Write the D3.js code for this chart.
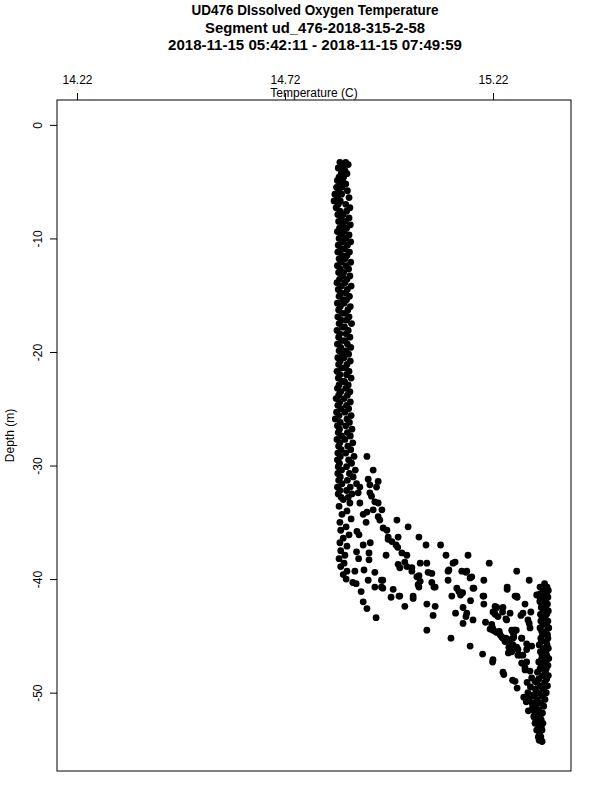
<!DOCTYPE html>
<html>
<head>
<meta charset="utf-8">
<script src="https://cdn.jsdelivr.net/npm/d3@7"></script>
<style>
  body { margin: 0; background: #fff; }
  text { font-family: "Liberation Sans", Arial, Helvetica, sans-serif; fill: #000; }
</style>
</head>
<body>
<div id="chart"></div>
<script>
// Titles and axis labels
var titleLines = [
  "UD476 DIssolved Oxygen Temperature",
  "Segment ud_476-2018-315-2-58",
  "2018-11-15 05:42:11 - 2018-11-15 07:49:59"
];
var xLabel = "Temperature (C)";
var yLabel = "Depth (m)";
var xTicks = [14.22, 14.72, 15.22];
var yTicks = [0, -10, -20, -30, -40, -50];

// Upper mixed layer: [temperature, depth]
var upperColumn = [
  [14.852,-3.3],[14.866,-3.3],[14.860,-3.5],[14.872,-3.5],[14.848,-3.8],[14.858,-3.8],[14.864,-4.0],
  [14.855,-4.3],[14.869,-4.3],[14.850,-4.6],[14.861,-4.6],[14.858,-4.9],[14.846,-4.9],
  [14.866,-5.2],[14.852,-5.2],[14.844,-5.5],[14.857,-5.5],[14.849,-5.8],[14.870,-5.8],
  [14.840,-6.1],[14.856,-6.1],[14.846,-6.4],[14.874,-6.4],[14.838,-6.7],[14.853,-6.7],
  [14.848,-7.0],[14.866,-7.0],[14.843,-7.3],[14.876,-7.3],[14.852,-7.6],[14.868,-7.6],
  [14.847,-7.9],[14.860,-7.9],[14.855,-8.2],[14.874,-8.2],[14.849,-8.5],[14.865,-8.5],
  [14.858,-8.8],[14.877,-8.8],[14.851,-9.1],[14.868,-9.1],[14.846,-9.4],[14.862,-9.4],
  [14.856,-9.7],[14.874,-9.7],[14.850,-10.0],[14.866,-10.0],[14.859,-10.3],[14.878,-10.3],
  [14.848,-10.6],[14.870,-10.6],[14.854,-10.9],[14.863,-10.9],[14.847,-11.2],[14.875,-11.2],
  [14.857,-11.5],[14.869,-11.5],[14.850,-11.8],[14.864,-11.8],[14.855,-12.1],[14.878,-12.1],
  [14.846,-12.4],[14.867,-12.4],[14.853,-12.7],[14.873,-12.7],[14.849,-13.0],[14.861,-13.0],
  [14.858,-13.3],[14.876,-13.3],[14.851,-13.6],[14.869,-13.6],[14.845,-13.9],[14.864,-13.9],
  [14.856,-14.2],[14.879,-14.2],[14.848,-14.5],[14.870,-14.5],[14.854,-14.8],[14.866,-14.8],
  [14.850,-15.1],[14.875,-15.1],[14.859,-15.4],[14.868,-15.4],[14.846,-15.7],[14.862,-15.7],
  [14.853,-16.0],[14.877,-16.0],[14.849,-16.3],[14.871,-16.3],[14.857,-16.6],[14.865,-16.6],
  [14.847,-16.9],[14.874,-16.9],[14.855,-17.2],[14.868,-17.2],[14.850,-17.5],[14.880,-17.5],
  [14.858,-17.8],[14.863,-17.8],[14.845,-18.1],[14.872,-18.1],[14.852,-18.4],[14.867,-18.4],
  [14.849,-18.7],[14.876,-18.7],[14.856,-19.0],[14.864,-19.0],[14.846,-19.3],[14.870,-19.3],
  [14.854,-19.6],[14.878,-19.6],[14.850,-19.9],[14.866,-19.9],[14.858,-20.2],[14.873,-20.2],
  [14.847,-20.5],[14.862,-20.5],[14.853,-20.8],[14.877,-20.8],[14.849,-21.1],[14.869,-21.1],
  [14.856,-21.4],[14.865,-21.4],[14.845,-21.7],[14.874,-21.7],[14.852,-22.0],[14.868,-22.0],
  [14.848,-22.3],[14.879,-22.3],[14.857,-22.6],[14.863,-22.6],[14.850,-22.9],[14.872,-22.9],
  [14.846,-23.2],[14.866,-23.2],[14.854,-23.5],[14.876,-23.5],[14.849,-23.8],[14.870,-23.8],
  [14.843,-24.1],[14.862,-24.1],[14.852,-24.4],[14.877,-24.4],[14.847,-24.7],[14.868,-24.7],
  [14.855,-25.0],[14.873,-25.0],[14.844,-25.3],[14.864,-25.3],[14.850,-25.6],[14.879,-25.6],
  [14.841,-25.9],[14.869,-25.9],[14.853,-26.2],[14.875,-26.2],[14.846,-26.5],[14.866,-26.5],
  [14.851,-26.8],[14.881,-26.8],[14.848,-27.1],[14.870,-27.1],[14.856,-27.4],[14.877,-27.4],
  [14.845,-27.7],[14.864,-27.7],[14.852,-28.0],[14.883,-28.0],[14.849,-28.3],[14.871,-28.3],
  [14.855,-28.6],[14.878,-28.6],[14.847,-28.9],[14.866,-28.9],[14.853,-29.2],[14.886,-29.2],
  [14.846,-29.5],[14.873,-29.5],[14.851,-29.8],[14.880,-29.8],[14.848,-30.1],[14.868,-30.1],
  [14.856,-30.4],[14.889,-30.4],[14.847,-30.7],[14.875,-30.7],[14.853,-31.0],[14.884,-31.0],
  [14.849,-31.3],[14.870,-31.3],[14.857,-31.6],[14.892,-31.6],[14.846,-31.9],[14.877,-31.9],
  [14.852,-32.2],[14.868,-32.2],[14.848,-32.5],[14.881,-32.5],[14.855,-32.8],[14.872,-32.8]
];

// Thermocline: [temperature, depth]
var thermocline = [
  [14.860,-33.0],[14.876,-33.3],[14.850,-33.6],[14.869,-34.0],[14.857,-34.3],[14.879,-34.7],
  [14.852,-35.0],[14.867,-35.4],[14.854,-35.7],[14.874,-36.1],[14.860,-36.4],[14.852,-36.8],
  [14.869,-37.1],[14.854,-37.5],[14.864,-37.9],[14.850,-38.2],[14.862,-38.6],[14.854,-38.9],
  [14.869,-39.3],[14.860,-39.6],[14.867,-40.0],[14.883,-40.3],[14.891,-40.4],
  [14.893,-35.8],[14.898,-36.1],[14.892,-37.6],[14.897,-38.2],[14.908,-37.0],[14.922,-37.7],
  [14.922,-38.3],[14.925,-36.8],[14.915,-35.0],[14.888,-39.3],[14.910,-39.2],[14.920,-40.1],
  [14.903,-41.1],[14.908,-42.0],[14.917,-42.6],[14.939,-43.4],[14.936,-40.7],[14.952,-40.1],
  [14.952,-40.7],[14.936,-39.4],[14.963,-37.9],
  [14.917,-29.2],[14.932,-30.4],[14.920,-31.2],[14.924,-31.7],[14.944,-31.4],[14.940,-31.9],
  [14.900,-31.9],[14.896,-32.4],[14.924,-32.4],[14.928,-32.7],[14.900,-33.3],[14.936,-33.2],
  [14.944,-33.3],[14.932,-33.9],[14.953,-33.9],[14.917,-34.1],[14.908,-34.3],[14.944,-34.5],
  [14.948,-34.8],[14.956,-35.5],[14.965,-35.7],[14.968,-36.3],[14.968,-36.5],[14.977,-36.7],
  [14.987,-37.0],[14.991,-37.2],[15.001,-37.7],[15.013,-37.9],[15.008,-38.5],[15.013,-38.9],
  [14.992,-38.7],[14.996,-39.0],[15.025,-39.0],[15.025,-39.3],[15.037,-39.8],[15.045,-40.2],
  [15.040,-40.5],[15.064,-39.4],[15.073,-40.3],[15.081,-40.7],[15.045,-38.6],[15.061,-38.6],
  [15.028,-41.5],[15.008,-42.4],[14.994,-41.5],[14.975,-41.6],[14.980,-40.9],[15.061,-42.2],
  [15.081,-42.4],[15.076,-43.2],[15.061,-44.5],[15.119,-45.2],[14.989,-34.8],[15.016,-35.4],
  [15.042,-36.3],[15.059,-37.0],[15.094,-37.0],[15.107,-37.9],[15.160,-37.9],[15.129,-38.5],
  [15.124,-38.6],[15.211,-38.6],[15.277,-39.3],[15.307,-40.1],[15.333,-40.7],[15.328,-41.4],
  [15.254,-40.7],[15.254,-40.9],[15.277,-41.5],[15.297,-42.2],[15.311,-42.9],[15.287,-43.2],
  [15.307,-43.9],[15.270,-44.5],[15.270,-44.7],[15.243,-42.9],[15.253,-43.6],[15.220,-42.9],
  [15.225,-43.1],[15.198,-42.2],[15.196,-41.5],[15.174,-40.8],[15.198,-40.1],[15.157,-39.3],
  [15.169,-39.8],[15.145,-39.3],[15.114,-39.2],[15.112,-40.1],[15.133,-40.8],[15.147,-41.2],
  [15.121,-41.5],[15.148,-42.5],[15.157,-43.0],[15.130,-43.0],[15.166,-41.9],[15.172,-43.6],
  [15.148,-43.9],[15.202,-43.8],[15.219,-44.3],[15.229,-44.7],[15.241,-45.1],[15.249,-45.5],
  [15.261,-45.5],[15.268,-45.8],[15.289,-45.2],[15.258,-46.0],[15.265,-46.4],[15.301,-46.2],
  [15.292,-46.7],[15.165,-45.9],[15.195,-46.6],[15.219,-47.3],[15.246,-48.4],[15.267,-48.9],
  [15.278,-49.6],[15.294,-50.4],[15.244,-48.2],
  [14.992,-36.3],[15.112,-39.3],[15.155,-39.4],[15.165,-39.9],[15.073,-39.5],[15.042,-39.7],
  [15.078,-40.7],[15.042,-40.7],[15.172,-40.8],[15.138,-41.1],[15.142,-41.4],[14.955,-40.1],
  [14.955,-40.8],[15.273,-41.5],[15.278,-41.6],[15.325,-41.4],[15.198,-41.5],[15.028,-41.7],
  [14.996,-41.5],[15.225,-42.4],[15.244,-42.5],[15.155,-43.3],[15.232,-43.3],[15.213,-44.4],
  [15.225,-44.6],[15.235,-44.6],[15.265,-44.5],[15.276,-44.5],[15.251,-45.2],[15.270,-45.1],
  [15.289,-45.2],[15.265,-45.8],[15.277,-46.0],[15.257,-46.5],[15.285,-46.7],
  [15.229,-42.5],[15.223,-42.9],[15.261,-43.0],[15.251,-43.5],[15.292,-43.0],[15.304,-43.6],
  [15.309,-44.3],[15.217,-44.0],[15.220,-44.5],[15.237,-44.9],[15.244,-45.2],[15.256,-45.3],
  [15.273,-44.5],[15.268,-44.7],[15.268,-45.2],[15.280,-46.2],[15.261,-46.1],[15.301,-45.7],
  [15.313,-45.9],[15.301,-47.3],[15.289,-47.4],[15.297,-47.8],[15.309,-48.1],[15.220,-47.1],
  [15.273,-49.0],[15.313,-48.7],[15.321,-49.0],[15.333,-42.0]
];

// Bottom layer near the seabed: [temperature, depth]
var bottomWall = [
  [15.344,-40.4],[15.350,-40.7],[15.337,-40.7],[15.341,-41.0],[15.353,-41.0],[15.348,-41.3],
  [15.334,-41.3],[15.338,-41.6],[15.352,-41.6],[15.346,-41.9],[15.333,-41.9],[15.351,-42.2],
  [15.339,-42.2],[15.336,-42.5],[15.347,-42.5],[15.353,-42.8],[15.341,-42.8],[15.334,-43.1],
  [15.349,-43.1],[15.345,-43.4],[15.338,-43.4],[15.352,-43.7],[15.335,-43.7],[15.340,-44.0],
  [15.349,-44.0],[15.333,-44.3],[15.354,-44.3],[15.347,-44.6],[15.337,-44.6],[15.339,-44.9],
  [15.351,-44.9],[15.352,-45.2],[15.335,-45.2],[15.336,-45.5],[15.348,-45.5],[15.350,-45.8],
  [15.331,-45.8],[15.341,-46.1],[15.353,-46.1],[15.334,-46.4],[15.347,-46.4],[15.349,-46.7],
  [15.338,-46.7],[15.337,-47.0],[15.354,-47.0],[15.345,-47.3],[15.330,-47.3],[15.352,-47.6],
  [15.336,-47.6],[15.333,-47.9],[15.348,-47.9],[15.346,-48.2],[15.327,-48.2],[15.339,-48.5],
  [15.353,-48.5],[15.330,-48.8],[15.349,-48.8],[15.344,-49.1],[15.325,-49.1],[15.351,-49.4],
  [15.334,-49.4],[15.322,-49.7],[15.341,-49.7],[15.348,-50.0],[15.330,-50.0],[15.318,-50.3],
  [15.338,-50.3],[15.345,-50.6],[15.326,-50.6],[15.314,-50.9],[15.335,-50.9],[15.342,-51.2],
  [15.322,-51.2],[15.330,-51.5],[15.316,-51.5],[15.339,-51.8],[15.324,-51.8],[15.318,-52.1],
  [15.333,-52.1],[15.336,-52.4],[15.326,-52.4],[15.321,-52.7],[15.340,-52.7],[15.330,-53.0],
  [15.336,-53.0],[15.325,-53.3],[15.338,-53.3],[15.332,-53.6],[15.329,-53.9],[15.335,-53.9],
  [15.331,-54.2],
  [15.280,-46.7],[15.290,-47.4],[15.297,-48.0],[15.302,-49.1],[15.304,-50.0],[15.314,-50.9],
  [15.321,-51.8],[15.326,-52.6],[15.333,-53.9],[15.338,-54.3],[15.310,-49.5],[15.318,-50.2],
  [15.306,-50.5],[15.315,-51.3],[15.325,-51.0],[15.320,-52.2],[15.300,-50.8],[15.305,-51.6]
];

var width = 600, height = 800;
var plotLeft = 57, plotRight = 571, plotTop = 100, plotBottom = 771;
// widths of the three title lines as drawn in the original bitmap font
var titleWidths = [247, 220, 294];

var svg = d3.select("#chart").append("svg")
  .attr("width", width)
  .attr("height", height);

var x = d3.scaleLinear().domain([14.172, 15.4075]).range([plotLeft, plotRight]);
var y = d3.scaleLinear().domain([2.19, -56.9]).range([plotTop, plotBottom]);

// Titles
svg.selectAll("text.title")
  .data(titleLines)
  .enter().append("text")
    .attr("class", "title")
    .attr("x", 315)
    .attr("y", function(d, i) { return 15 + i * 17.5; })
    .attr("text-anchor", "middle")
    .attr("textLength", function(d, i) { return titleWidths[i]; })
    .attr("lengthAdjust", "spacingAndGlyphs")
    .style("font-size", "14px")
    .style("font-weight", "bold")
    .text(function(d) { return d; });

// Top axis
var topAxis = svg.append("g")
  .attr("transform", "translate(0," + plotTop + ")")
  .call(d3.axisTop(x).tickValues(xTicks).tickSize(7).tickPadding(9)
    .tickFormat(d3.format(".2f")));
topAxis.select(".domain").remove();
topAxis.selectAll("line").attr("stroke", "#000");
topAxis.selectAll("text")
  .style("font-size", "12px")
  .style("font-family", "'Liberation Sans', Arial, sans-serif")
  .attr("fill", "#000");

svg.append("text")
  .attr("x", 314)
  .attr("y", 96.5)
  .attr("text-anchor", "middle")
  .style("font-size", "12px")
  .text(xLabel);

// Left axis
var leftAxis = svg.append("g")
  .attr("transform", "translate(" + plotLeft + ",0)")
  .call(d3.axisLeft(y).tickValues(yTicks).tickSize(7)
    .tickFormat(function(d) { return String(d); }));
leftAxis.select(".domain").remove();
leftAxis.selectAll("line").attr("stroke", "#000");
leftAxis.selectAll("text")
  .attr("transform", "rotate(-90)")
  .attr("x", 0)
  .attr("y", -15)
  .attr("dy", 0)
  .style("text-anchor", "middle")
  .style("font-size", "12px")
  .style("font-family", "'Liberation Sans', Arial, sans-serif")
  .attr("fill", "#000");

svg.append("text")
  .attr("transform", "translate(14," + ((plotTop + plotBottom) / 2) + ") rotate(-90)")
  .attr("text-anchor", "middle")
  .style("font-size", "12px")
  .text(yLabel);

// Plot box
svg.append("rect")
  .attr("x", plotLeft)
  .attr("y", plotTop)
  .attr("width", plotRight - plotLeft)
  .attr("height", plotBottom - plotTop)
  .attr("fill", "none")
  .attr("stroke", "#000")
  .attr("stroke-width", 1);

// Points
var allPoints = upperColumn.concat(thermocline, bottomWall);
svg.append("g")
  .selectAll("circle")
  .data(allPoints)
  .enter().append("circle")
    .attr("cx", function(d) { return x(d[0]); })
    .attr("cy", function(d) { return y(d[1]); })
    .attr("r", 3.4)
    .attr("fill", "#000");
</script>
</body>
</html>
